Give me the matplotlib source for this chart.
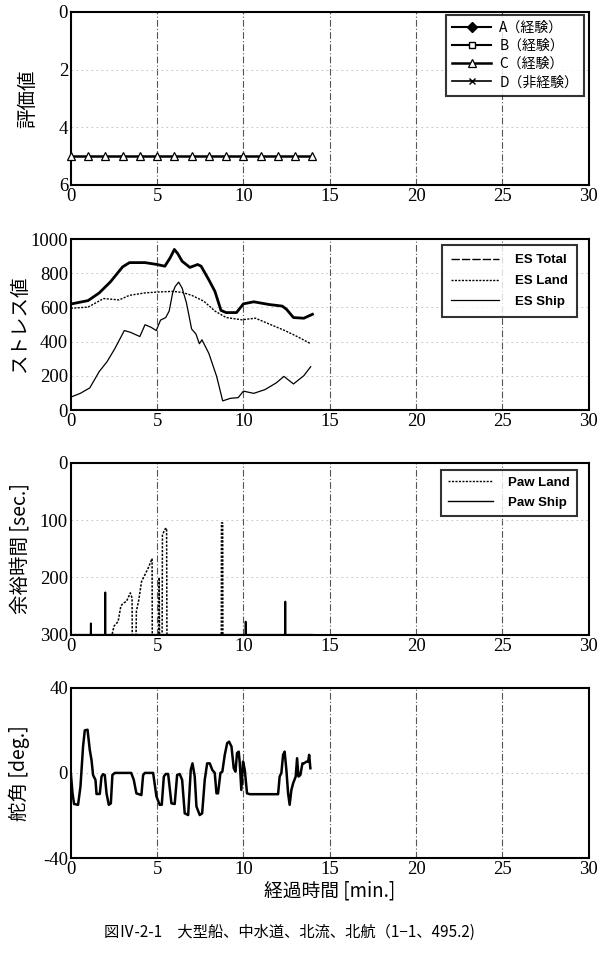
import numpy as np
import matplotlib
matplotlib.use("Agg")
import matplotlib.pyplot as plt
from matplotlib.lines import Line2D

plt.rcParams['font.family'] = ['Liberation Serif', 'Noto Sans CJK JP', 'DejaVu Sans']

# ---------------- data ----------------
eval_t = list(range(0, 15))
eval_C = [5] * 15

es_total_t = [0, 1.0, 1.65, 2.3, 3.0, 3.4, 4.3, 5.0, 5.45, 5.75, 6.0, 6.2, 6.45, 6.9, 7.35, 7.55,
              8.0, 8.35, 8.7, 9.0, 9.6, 10.0, 10.6, 11.5, 12.25, 12.5, 12.9, 13.5, 14.0]
es_total_v = [620, 640, 685, 750, 837, 862, 862, 851, 841, 889, 939, 914, 870, 834, 851, 841,
              761, 694, 583, 570, 570, 621, 633, 617, 608, 589, 541, 537, 560]

es_land_t = [0, 1.0, 1.9, 2.8, 3.4, 4.3, 5.0, 5.9, 6.45, 7.0, 7.7, 8.35, 9.0, 9.9, 10.7, 11.5,
             12.4, 13.0, 13.9]
es_land_v = [595, 602, 652, 644, 671, 685, 690, 694, 688, 671, 637, 579, 541, 528, 537, 503,
             465, 436, 388]

es_ship_t = [0, 0.55, 1.1, 1.65, 2.1, 2.55, 3.1, 3.45, 4.0, 4.3, 4.65, 4.95, 5.2, 5.5, 5.7, 5.9,
             6.05, 6.25, 6.45, 6.7, 7.0, 7.25, 7.45, 7.6, 8.0, 8.45, 8.8, 9.25, 9.7, 10.0, 10.6,
             11.25, 11.9, 12.35, 12.9, 13.5, 13.9]
es_ship_v = [76, 98, 130, 226, 283, 359, 465, 455, 430, 499, 484, 465, 526, 541, 579, 685,
             723, 748, 713, 627, 474, 445, 388, 411, 331, 197, 54, 69, 73, 111, 98,
             120, 159, 197, 153, 201, 254]

paw_land_t = [0, 2.39, 2.5, 2.74, 2.9, 3.03, 3.22, 3.45, 3.55, 3.56, 3.78, 3.8, 3.94, 4.1, 4.3,
              4.48, 4.71, 4.72, 5.1, 5.12, 5.14, 5.29, 5.31, 5.45, 5.55, 5.57, 8.72, 8.73, 8.8,
              8.81, 14]
paw_land_v = [300, 300, 285, 277, 250, 245, 242, 227, 236, 300, 300, 259, 239, 207, 195,
              184, 167, 300, 300, 200, 300, 300, 126, 116, 114, 300, 300, 105, 105,
              300, 300]

paw_ship_t = [0, 1.15, 1.16, 1.17, 1.99, 2.0, 2.01, 10.12, 10.13, 10.14, 12.42, 12.43, 12.44, 14]
paw_ship_v = [300, 300, 280, 300, 300, 226, 300, 300, 277, 300, 300, 242, 300, 300]

rud_t = [0, 0.1, 0.19, 0.42, 0.56, 0.71, 0.81, 0.97, 1.1, 1.2, 1.29, 1.43, 1.49, 1.68, 1.78,
         1.87, 1.97, 2.07, 2.2, 2.32, 2.41, 2.55, 3.5, 3.65, 3.8, 4.09, 4.19, 4.29, 4.77, 4.96,
         5.15, 5.27, 5.39, 5.5, 5.64, 5.83, 6.02, 6.16, 6.31, 6.45, 6.6, 6.8, 6.95, 7.05, 7.18,
         7.28, 7.47, 7.61, 7.76, 7.9, 8.05, 8.2, 8.34, 8.44, 8.53, 8.67, 8.78, 8.92, 9.06, 9.17,
         9.31, 9.44, 9.54, 9.63, 9.73, 9.79, 9.88, 9.98, 10.08, 10.21, 10.37, 12.01, 12.1, 12.2,
         12.3, 12.39, 12.49, 12.59, 12.68, 12.78, 12.88, 13.03, 13.11, 13.19, 13.3, 13.42, 13.51,
         13.65, 13.75, 13.81, 13.88]
rud_v = [0, -9.6, -14.6, -15, -6.4, 12.4, 20, 20.3, 10.8, 6.1, -1, -3.3, -9.9, -9.9, -1.7,
         -0.6, -1, -9.6, -15, -14.3, -1, 0, 0, -3.3, -9.6, -10.4, -1, 0, 0, -11,
         -15, -15, -1.7, -0.5, -0.5, -14.3, -14.6, -1, -0.5, -3.3, -19, -19.8, 1.4, 4.5, -1.7,
         -15.8, -19.8, -19, -3.3, 4.5, 4.5, 1.4, 0, -9.6, -9.6, 0, 0.6, 8.5, 14, 14.7,
         12.4, 2.2, 0.6, 9.3, 10, 4.5, -8, 5.3, 1.4, -9.6, -10, -10, -1.7, 0,
         8.5, 10, 1.4, -9.6, -15, -8, -4.9, -1.7, 6.9, -1.7, -1, 4.5, 4.5,
         5.3, 5.3, 8.5, 2.2]

xticks = [0, 5, 10, 15, 20, 25, 30]

# ---------------- figure ----------------
fig = plt.figure(figsize=(6.0, 9.56), dpi=100)
L, W = 0.118, 0.863
ax1 = fig.add_axes([L, 0.8065, W, 0.181])
ax2 = fig.add_axes([L, 0.571, W, 0.179])
ax3 = fig.add_axes([L, 0.336, W, 0.180])
ax4 = fig.add_axes([L, 0.1025, W, 0.178])

cjk = ['Noto Sans CJK JP', 'DejaVu Sans']

for ax in (ax1, ax2, ax3, ax4):
    ax.set_xlim(0, 30)
    ax.set_xticks(xticks)
    ax.tick_params(length=0, pad=2)
    for sp in ax.spines.values():
        sp.set_linewidth(1.5)
    for xv in [5, 10, 15, 20, 25]:
        ax.axvline(xv, color='#555555', lw=0.8, ls=(0, (6, 2, 1, 2)), zorder=0)

def set_ticks(ax, ticks):
    ax.set_yticks(ticks)
    ax.set_xticklabels([str(t) for t in xticks], fontfamily='Liberation Serif', fontsize=13.5)
    ax.set_yticklabels([str(t) for t in ticks], fontfamily='Liberation Serif', fontsize=13.5)
    for yv in ticks[1:-1]:
        ax.axhline(yv, color='#bbbbbb', lw=0.6, ls=(0, (2, 4)), zorder=0)

# panel 1
ax1.set_ylim(6, 0)
set_ticks(ax1, [0, 2, 4, 6])
hA, = ax1.plot([], [], color='black', lw=1.5, marker='D', ms=5, mfc='black', label='A（経験）')
hB, = ax1.plot([], [], color='black', lw=1.5, marker='s', ms=5, mfc='white', label='B（経験）')
hC, = ax1.plot(eval_t, eval_C, color='black', lw=1.8, marker='^', ms=6, mfc='white',
               mew=0.9, label='C（経験）', clip_on=False, zorder=5)
hD, = ax1.plot([], [], color='black', lw=1.2, marker='x', ms=4, label='D（非経験）')
leg1 = ax1.legend(loc='upper right', bbox_to_anchor=(0.992, 0.985),
                  prop=dict(family=cjk, size=10), frameon=True,
                  fancybox=False, edgecolor='black', handlelength=2.8, borderpad=0.45,
                  labelspacing=0.3, borderaxespad=0.0, handletextpad=0.6)
leg1.get_frame().set_linewidth(1.5)
ax1.set_ylabel('評価値', family=cjk, fontsize=14)

# panel 2
ax2.set_ylim(0, 1000)
set_ticks(ax2, [0, 200, 400, 600, 800, 1000])
ax2.plot(es_total_t, es_total_v, color='black', lw=2.0, label='ES Total')
ax2.plot(es_land_t, es_land_v, color='black', lw=1.0, ls=(0, (1.5, 1)), label='ES Land')
ax2.plot(es_ship_t, es_ship_v, color='black', lw=0.9, label='ES Ship')
h_tot = Line2D([], [], color='black', lw=1.0, ls=(0, (6, 1.5)))
h_land = Line2D([], [], color='black', lw=1.0, ls=(0, (1.5, 1)))
h_ship = Line2D([], [], color='black', lw=0.9)
leg2 = ax2.legend([h_tot, h_land, h_ship], ['ES Total', 'ES Land', 'ES Ship'],
                  loc='upper right', bbox_to_anchor=(0.977, 0.965),
                  prop=dict(family='Liberation Sans', weight='bold', size=9.5),
                  fancybox=False, edgecolor='black', handlelength=3.6, handletextpad=1.2,
                  borderpad=0.7, labelspacing=0.65, borderaxespad=0.0)
leg2.get_frame().set_linewidth(1.5)
ax2.set_ylabel('ストレス値', family=cjk, fontsize=14)

# panel 3
ax3.set_ylim(300, 0)
set_ticks(ax3, [0, 100, 200, 300])
ax3.plot(paw_land_t, paw_land_v, color='black', lw=1.1, ls=(0, (1.5, 1)), label='Paw Land')
ax3.plot(paw_ship_t, paw_ship_v, color='black', lw=1.3, label='Paw Ship')
h_pl = Line2D([], [], color='black', lw=1.0, ls=(0, (1.5, 1)))
h_ps = Line2D([], [], color='black', lw=1.0)
leg3 = ax3.legend([h_pl, h_ps], ['Paw Land', 'Paw Ship'], loc='upper right',
                  bbox_to_anchor=(0.977, 0.96),
                  prop=dict(family='Liberation Sans', weight='bold', size=9.5),
                  fancybox=False, edgecolor='black', handlelength=3.4, handletextpad=1.1,
                  borderpad=0.55, labelspacing=0.55, borderaxespad=0.0)
leg3.get_frame().set_linewidth(1.5)
ax3.set_ylabel('余裕時間 [sec.]', family=cjk, fontsize=14)

# panel 4
ax4.set_ylim(-40, 40)
set_ticks(ax4, [-40, 0, 40])
ax4.plot(rud_t, rud_v, color='black', lw=1.8)
ax4.set_ylabel('舵角 [deg.]', family=cjk, fontsize=14)
ax4.set_xlabel('経過時間 [min.]', family=cjk, fontsize=13.5, labelpad=2)

fig.text(0.483, 0.016, '図Ⅳ-2-1　大型船、中水道、北流、北航（1−1、495.2)',
         family=cjk, fontsize=11, ha='center', va='bottom')

ax1.yaxis.set_label_coords(-0.062, 0.5)
for ax in (ax2, ax3, ax4):
    ax.yaxis.set_label_coords(-0.078, 0.5)

fig.savefig('out.png', dpi=100)
